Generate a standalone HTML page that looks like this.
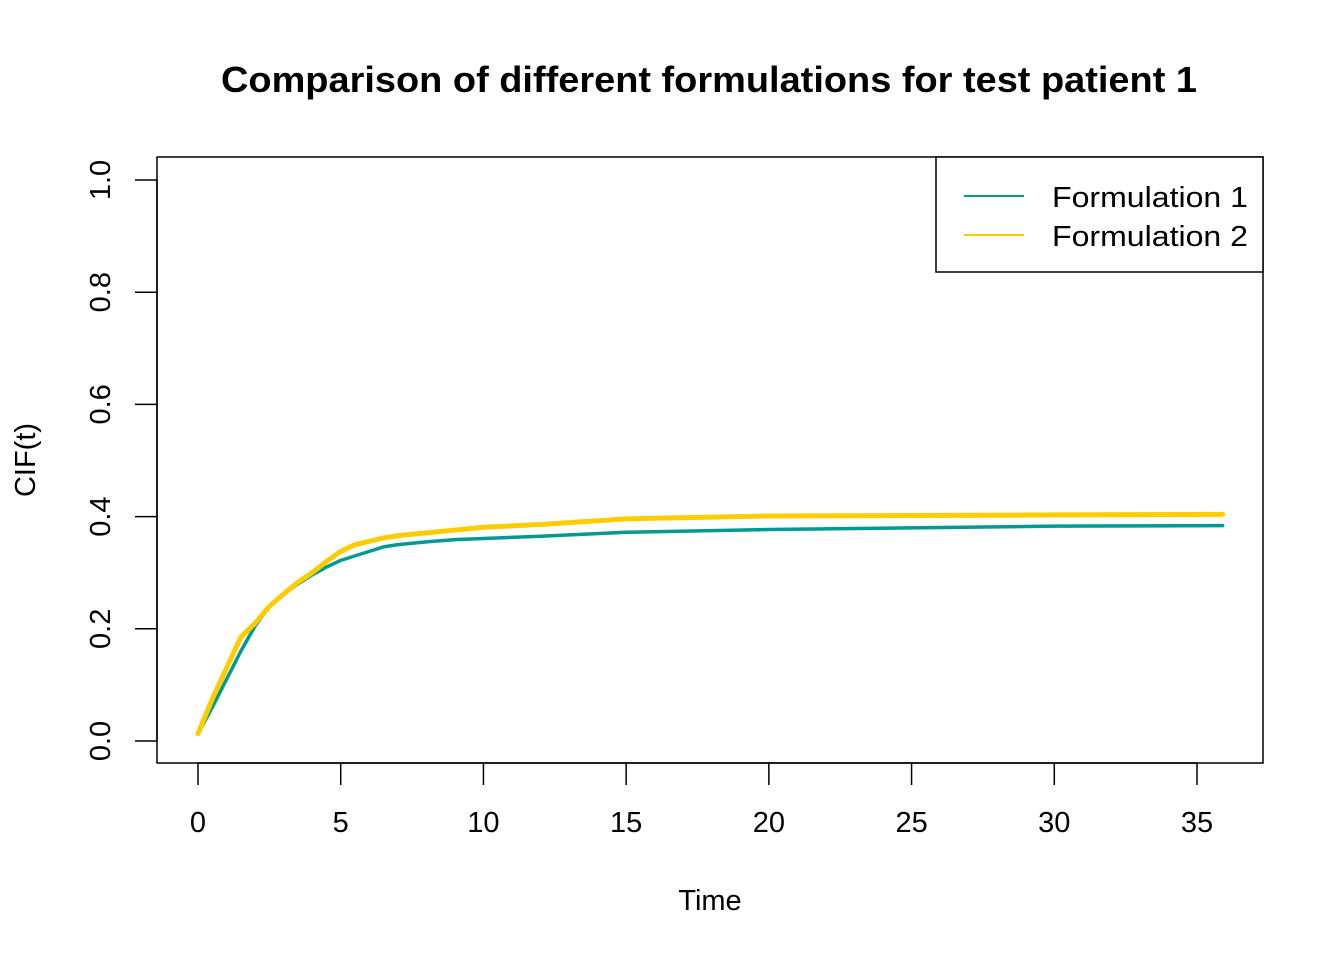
<!DOCTYPE html>
<html><head><meta charset="utf-8"><style>body{margin:0;background:#fff}svg text{font-family:"Liberation Sans",Arial,sans-serif}</style></head>
<body>
<svg id="chart" width="1344" height="960" viewBox="0 0 1344 960" xmlns="http://www.w3.org/2000/svg">
<rect width="1344" height="960" fill="#fff"/>
<text x="221" y="92" font-size="36" font-weight="bold" textLength="976" lengthAdjust="spacingAndGlyphs">Comparison of different formulations for test patient 1</text>
<rect x="157" y="157" width="1106" height="606" fill="none" stroke="#000" stroke-width="1.5"/>
<g id="xaxis"></g>
<g id="yaxis"></g>
<text x="710" y="910" text-anchor="middle" font-size="29">Time</text>
<text transform="translate(35,460) rotate(-90)" text-anchor="middle" font-size="29">CIF(t)</text>
<g id="series"></g>
<g>
<rect x="936" y="157" width="327" height="115" fill="#fff" stroke="#000" stroke-width="1.5"/>
<line x1="964" y1="196" x2="1024" y2="196" stroke="#009a93" stroke-width="2"/>
<text x="1052" y="207" font-size="29" textLength="196" lengthAdjust="spacingAndGlyphs">Formulation 1</text>
<line x1="964" y1="235" x2="1024" y2="235" stroke="#ffcc00" stroke-width="2"/>
<text x="1052" y="246" font-size="29" textLength="196" lengthAdjust="spacingAndGlyphs">Formulation 2</text>
</g>
</svg>
<script>
const times=[0,0.5,1,1.5,2,2.5,3,3.5,4,4.5,5,5.5,6,6.5,7,8,9,10,12,15,20,25,30,35.9];
const f1=[0.013,0.06,0.11,0.16,0.205,0.24,0.262,0.28,0.296,0.31,0.322,0.33,0.338,0.346,0.35,0.355,0.359,0.361,0.365,0.372,0.377,0.38,0.383,0.384];
const f2=[0.013,0.075,0.13,0.185,0.21,0.24,0.262,0.283,0.3,0.32,0.338,0.35,0.356,0.362,0.366,0.371,0.376,0.381,0.386,0.396,0.401,0.402,0.403,0.404];
const xTicks=[0,5,10,15,20,25,30,35];
const yTicks=["0.0","0.2","0.4","0.6","0.8","1.0"];
const NS="http://www.w3.org/2000/svg";
const X=t=>198+t*(1197-198)/35;
const Y=v=>741-v*561;
function mk(tag,attrs,parent){const e=document.createElementNS(NS,tag);for(const k in attrs)e.setAttribute(k,attrs[k]);parent.appendChild(e);return e;}
const xa=document.getElementById('xaxis'),ya=document.getElementById('yaxis'),sg=document.getElementById('series');
mk('line',{x1:X(0),y1:763,x2:X(35),y2:763,stroke:'#000','stroke-width':1.5},xa);
xTicks.forEach(t=>{
 const l=mk('line',{x1:X(t),y1:763,x2:X(t),y2:785,stroke:'#000','stroke-width':1.5},xa);
 
 
 const tx=mk('text',{x:X(t),y:832,'text-anchor':'middle','font-size':29},xa);tx.textContent=t;
 
 
});
mk('line',{x1:157,y1:Y(0),x2:157,y2:Y(1),stroke:'#000','stroke-width':1.5},ya);
yTicks.forEach(s=>{
 const v=parseFloat(s);
 const l=mk('line',{x1:135,y1:Y(v),x2:157,y2:Y(v),stroke:'#000','stroke-width':1.5},ya);
 
 
 const tx=mk('text',{transform:`translate(110,${Y(v)}) rotate(-90)`,'text-anchor':'middle','font-size':29},ya);tx.textContent=s;
 
 
});
function line(vals,color,w,name){
 const p=mk('polyline',{points:times.map((t,i)=>X(t)+','+Y(vals[i])).join(' '),fill:'none',stroke:color,'stroke-width':w,'stroke-linejoin':'round','stroke-linecap':'round'},sg);
 
 
}
line(f1,'#009a93',3.5,'line-formulation-1');
line(f2,'#ffcc00',5,'line-formulation-2');
</script>
</body></html>
